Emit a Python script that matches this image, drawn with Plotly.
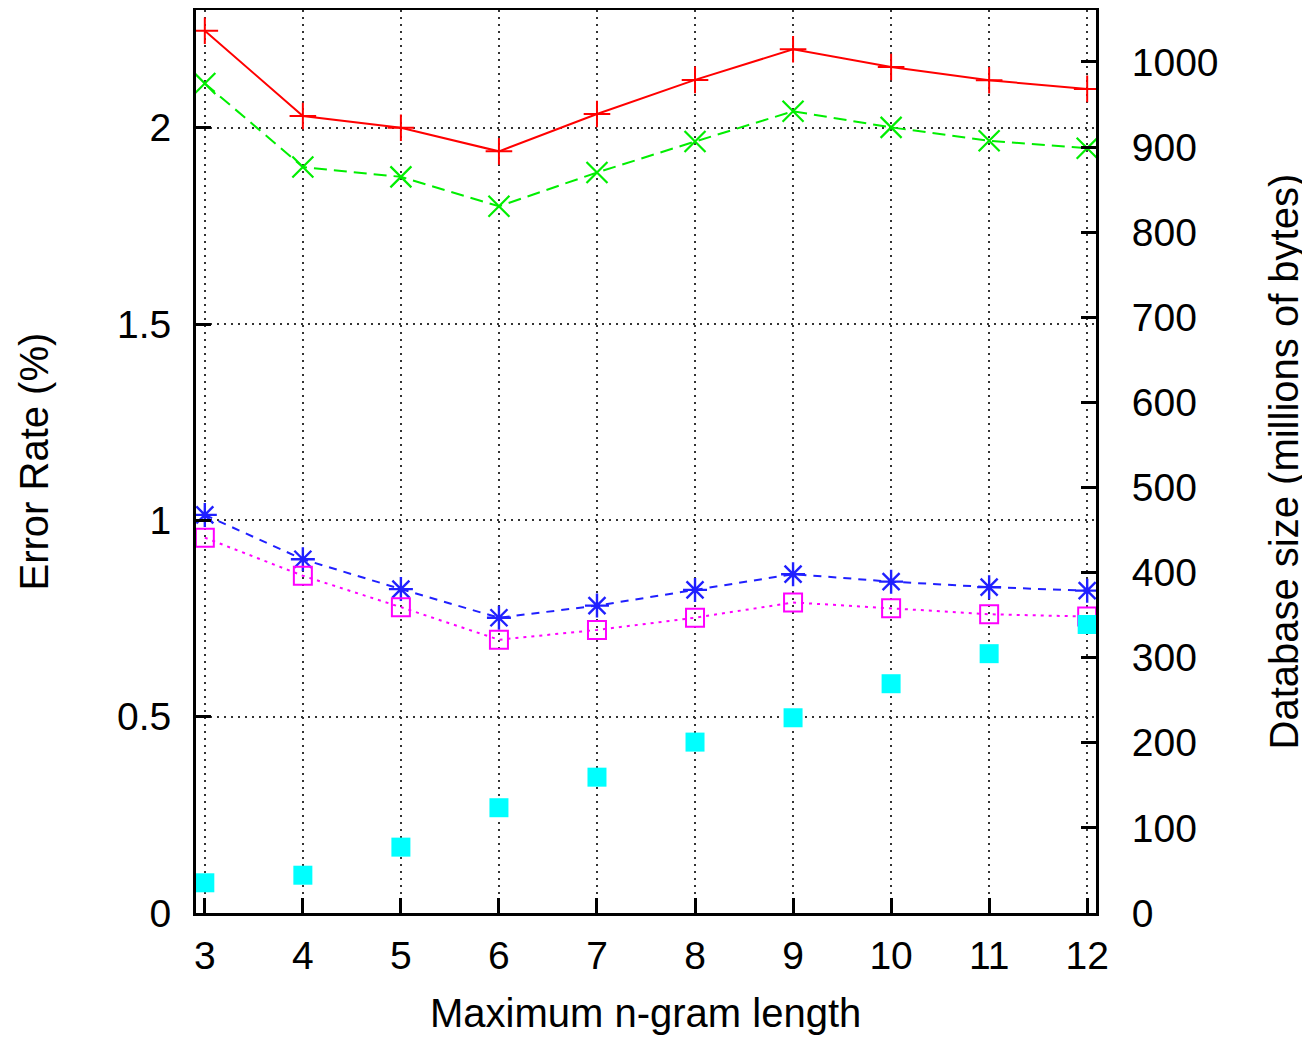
import plotly.graph_objects as go

ngram = [3, 4, 5, 6, 7, 8, 9, 10, 11, 12]
err_red = [2.247, 2.030, 2.000, 1.940, 2.035, 2.122, 2.200, 2.155, 2.121, 2.099]
err_green = [2.113, 1.900, 1.875, 1.800, 1.886, 1.965, 2.042, 2.001, 1.967, 1.948]
err_blue = [1.014, 0.901, 0.825, 0.752, 0.783, 0.823, 0.863, 0.844, 0.830, 0.821]
err_magenta = [0.956, 0.859, 0.779, 0.696, 0.721, 0.752, 0.791, 0.776, 0.761, 0.755]
db_size = [35.5, 44.4, 77.4, 123.7, 159.6, 200.8, 229.4, 269.4, 304.7, 339.0]

x_ticks = ngram
y_ticks = [0, 0.5, 1, 1.5, 2]
y_tick_labels = ["0", "0.5", "1", "1.5", "2"]
y2_ticks = [0, 100, 200, 300, 400, 500, 600, 700, 800, 900, 1000]

FONT = "Liberation Sans, Arial, Helvetica, sans-serif"
FS = 39
FT = 40

# page body has an 8px default margin, so the figure is placed at (8, 8)
OFF = 8
L, T, PW, PH = 196 - OFF, 10 - OFF, 900, 903
W, H = 1310 - OFF, 1037 - OFF

fig = go.Figure()

fig.add_trace(go.Scatter(
    x=ngram, y=err_red, mode="lines+markers",
    line=dict(color="#ff0000", width=2, dash="solid"),
    marker=dict(symbol="cross-thin", size=19, line=dict(color="#ff0000", width=2)),
    showlegend=False))
fig.add_trace(go.Scatter(
    x=ngram, y=err_green, mode="lines+markers",
    line=dict(color="#00ee00", width=2, dash="13px,7px"),
    marker=dict(symbol="x-thin", size=21, line=dict(color="#00ee00", width=2.2)),
    showlegend=False))
fig.add_trace(go.Scatter(
    x=ngram, y=err_blue, mode="lines+markers",
    line=dict(color="#2020ff", width=2, dash="8px,7px"),
    marker=dict(symbol="asterisk", size=20, line=dict(color="#2020ff", width=2.4)),
    showlegend=False))
fig.add_trace(go.Scatter(
    x=ngram, y=err_magenta, mode="lines+markers",
    line=dict(color="#ff00ff", width=2, dash="3px,5px"),
    marker=dict(symbol="square-open", size=18, color="#ff00ff", line=dict(color="#ff00ff", width=2)),
    showlegend=False))
fig.add_trace(go.Scatter(
    x=ngram, y=db_size, mode="markers", yaxis="y2",
    marker=dict(symbol="square", size=19, color="#00ffff", line=dict(width=0)),
    showlegend=False))

grid = dict(showgrid=True, gridcolor="#333333", gridwidth=1.6, griddash="2px,5px")

fig.update_layout(
    width=W, height=H,
    margin=dict(l=L, r=W - L - PW, t=T, b=H - T - PH, pad=0, autoexpand=False),
    paper_bgcolor="white", plot_bgcolor="white",
    font=dict(family=FONT, size=FS, color="black"),
    xaxis=dict(
        range=[2.91, 12.09], tickvals=x_ticks, ticks="inside", ticklen=15, tickwidth=2.5,
        tickcolor="black", showline=True, linecolor="black", linewidth=3, mirror=True,
        zeroline=False, ticklabelstandoff=6, automargin=False, **grid),
    yaxis=dict(
        range=[0, 2.3], tickvals=y_ticks, ticktext=y_tick_labels, ticks="inside", ticklen=15,
        tickwidth=2.5, tickcolor="black", showline=True, linecolor="black", linewidth=3,
        zeroline=False, ticklabelstandoff=14, automargin=False, **grid),
    yaxis2=dict(
        range=[0, 1061], tickvals=y2_ticks, overlaying="y", side="right", ticks="inside",
        ticklen=15, tickwidth=2.5, tickcolor="black", showline=True, linecolor="black",
        linewidth=3, showgrid=False, zeroline=False, ticklabelstandoff=25, automargin=False),
    annotations=[
        dict(text="Maximum n-gram length", xref="paper", yref="paper",
             x=(645 - 196) / PW, y=(913 - 1013) / PH, xanchor="center", yanchor="middle",
             showarrow=False, font=dict(family=FONT, size=FT)),
        dict(text="Error Rate (%)", xref="paper", yref="paper", textangle=-90,
             x=(33 - 196) / PW, y=0.5, xanchor="center", yanchor="middle",
             showarrow=False, font=dict(family=FONT, size=FT)),
        dict(text="Database size (millions of bytes)", xref="paper", yref="paper", textangle=-90,
             x=(1283 - 196) / PW, y=0.5, xanchor="center", yanchor="middle",
             showarrow=False, font=dict(family=FONT, size=FT)),
    ],
)

fig.write_html("out.html")
